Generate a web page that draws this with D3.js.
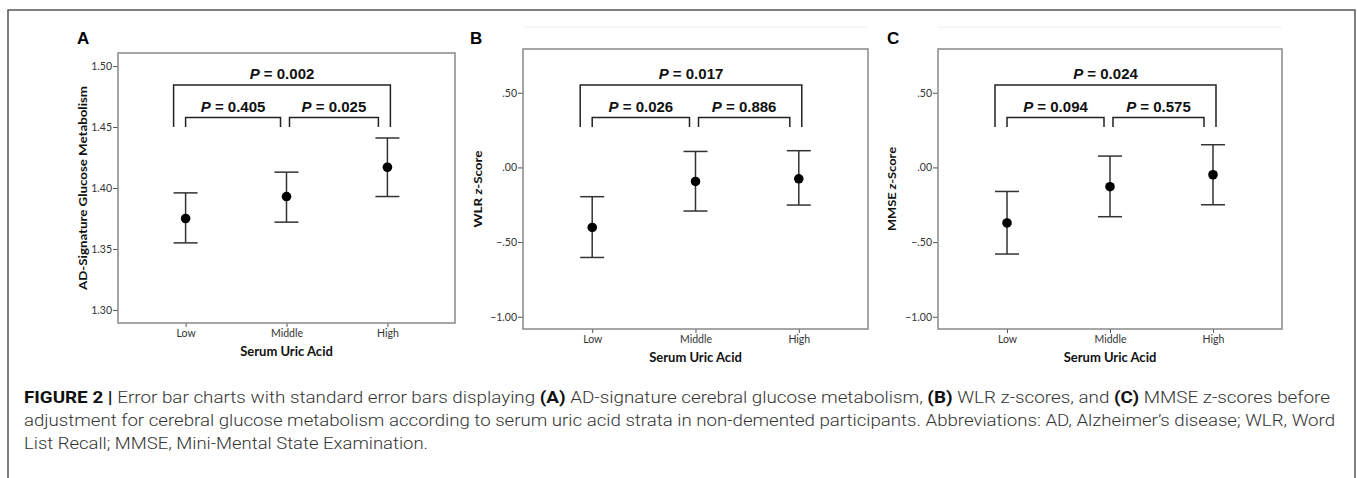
<!DOCTYPE html>
<html>
<head>
<meta charset="utf-8">
<script src="https://cdn.jsdelivr.net/npm/d3@7"></script>
<style>
  body { margin: 0; background: #fff; }
  .tick text { font-family: Lato, "DejaVu Sans", sans-serif; font-size: 10.5px; fill: #333; }
  .tick line { stroke: #555; }
</style>
</head>
<body>
<div id="figure"></div>
<script>
// Values
const categories = ['Low', 'Middle', 'High'];

const glucoseMean  = [1.375, 1.393, 1.417];
const glucoseLower = [1.355, 1.372, 1.393];
const glucoseUpper = [1.396, 1.413, 1.441];
const glucoseTicks = [1.30, 1.35, 1.40, 1.45, 1.50];
const glucoseP = ['0.002', '0.405', '0.025'];

const wlrMean  = [-0.402, -0.094, -0.076];
const wlrLower = [-0.603, -0.292, -0.252];
const wlrUpper = [-0.196, 0.107, 0.112];
const wlrP = ['0.017', '0.026', '0.886'];

const mmseMean  = [-0.372, -0.129, -0.049];
const mmseLower = [-0.580, -0.330, -0.250];
const mmseUpper = [-0.161, 0.076, 0.152];
const mmseP = ['0.024', '0.094', '0.575'];

const zTicks = [-1.00, -0.50, 0.00, 0.50];

const width = 1357;
const height = 478;

const svg = d3.select('#figure')
  .append('svg')
    .attr('width', width)
    .attr('height', height);

// outer frame of the figure
svg.append('path')
  .attr('d', `M8,${height} V10 H1355 V${height}`)
  .attr('fill', 'none')
  .attr('stroke', '#555')
  .attr('stroke-width', 1.5);

const zFormat = v => d3.format('.2f')(v).replace('0.', '.');

const panels = [
  { letter: 'A', letterX: 77, box: {l: 118, r: 455, t: 53, b: 323}, domain: [1.2893, 1.5107],
    ticks: glucoseTicks, fmt: d3.format('.2f'), mean: glucoseMean, lower: glucoseLower, upper: glucoseUpper,
    pvals: glucoseP, yLabel: ['AD-Signature Glucose Metabolism'], yLabelX: 83, yLabelLen: 204, faint: false },
  { letter: 'B', letterX: 470, box: {l: 523, r: 868, t: 49, b: 329}, domain: [-1.082, 0.793],
    ticks: zTicks, fmt: zFormat, mean: wlrMean, lower: wlrLower, upper: wlrUpper,
    pvals: wlrP, yLabel: ['WLR ', 'z', '-Score'], yLabelX: 478, yLabelLen: 77, faint: true },
  { letter: 'C', letterX: 887, box: {l: 938, r: 1282, t: 49, b: 329}, domain: [-1.082, 0.793],
    ticks: zTicks, fmt: zFormat, mean: mmseMean, lower: mmseLower, upper: mmseUpper,
    pvals: mmseP, yLabel: ['MMSE ', 'z', '-Score'], yLabelX: 892, yLabelLen: 84, faint: true }
];

panels.forEach(p => drawPanel(p));

function drawPanel(p) {
  const g = svg.append('g');
  const {l, r, t, b} = p.box;

  const x = d3.scalePoint().domain(categories).range([l, r]).padding(0.67);
  const y = d3.scaleLinear().domain(p.domain).range([b, t]);

  g.append('text')
    .attr('x', p.letterX)
    .attr('y', 44)
    .attr('font-family', 'Liberation Sans, Arial, sans-serif')
    .attr('font-weight', 700)
    .attr('font-size', 17)
    .text(p.letter);

  if (p.faint) {
    g.append('line')
      .attr('x1', l).attr('x2', r).attr('y1', 27).attr('y2', 27)
      .attr('stroke', '#f0f0f0');
  }

  // axes
  const yAxis = g.append('g')
    .attr('transform', `translate(${l},0)`)
    .call(d3.axisLeft(y).tickValues(p.ticks).tickFormat(p.fmt).tickSize(5).tickPadding(1));
  yAxis.select('.domain').remove();

  const xAxis = g.append('g')
    .attr('transform', `translate(0,${b})`)
    .call(d3.axisBottom(x).tickSize(4).tickPadding(3));
  xAxis.select('.domain').remove();

  g.append('rect')
    .attr('x', l).attr('y', t)
    .attr('width', r - l).attr('height', b - t)
    .attr('fill', 'none')
    .attr('stroke', '#888')
    .attr('stroke-width', 1.5);

  // axis titles
  g.append('text')
    .attr('x', (l + r) / 2)
    .attr('y', b + 33)
    .attr('text-anchor', 'middle')
    .attr('font-family', 'Lato, "DejaVu Sans", sans-serif')
    .attr('font-weight', 700)
    .attr('font-size', 13)
    .attr('fill', '#111')
    .text('Serum Uric Acid');

  const yl = g.append('text')
    .attr('transform', `translate(${p.yLabelX},${(t + b) / 2}) rotate(-90)`)
    .attr('text-anchor', 'middle')
    .attr('dy', '0.35em')
    .attr('textLength', p.yLabelLen)
    .attr('lengthAdjust', 'spacingAndGlyphs')
    .attr('font-family', 'Lato, "DejaVu Sans", sans-serif')
    .attr('font-weight', 700)
    .attr('font-size', 12)
    .attr('fill', '#111');
  p.yLabel.forEach(part => {
    yl.append('tspan')
      .attr('font-style', part === 'z' ? 'italic' : 'normal')
      .text(part);
  });

  // error bars
  const capW = 12;
  const bars = g.append('g')
    .attr('stroke', '#333')
    .attr('stroke-width', 1.5);
  categories.forEach((c, i) => {
    bars.append('line')
      .attr('x1', x(c)).attr('x2', x(c))
      .attr('y1', y(p.lower[i])).attr('y2', y(p.upper[i]));
    bars.append('line')
      .attr('x1', x(c) - capW).attr('x2', x(c) + capW)
      .attr('y1', y(p.upper[i])).attr('y2', y(p.upper[i]));
    bars.append('line')
      .attr('x1', x(c) - capW).attr('x2', x(c) + capW)
      .attr('y1', y(p.lower[i])).attr('y2', y(p.lower[i]));
  });
  g.append('g')
    .selectAll('circle')
    .data(categories)
    .join('circle')
      .attr('cx', d => x(d))
      .attr('cy', (d, i) => y(p.mean[i]))
      .attr('r', 4.8)
      .attr('fill', '#000');

  // significance brackets
  const brackets = [
    { x1: x('Low') - 12, x2: x('High') + 3, top: 85, label: p.pvals[0], ly: 79 },
    { x1: x('Low'), x2: x('Middle') - 6, top: 117.5, label: p.pvals[1], ly: 112 },
    { x1: x('Middle') + 3, x2: x('High') - 9, top: 117.5, label: p.pvals[2], ly: 112 }
  ];
  brackets.forEach(br => {
    g.append('path')
      .attr('d', `M${br.x1},127 V${br.top} H${br.x2} V127`)
      .attr('fill', 'none')
      .attr('stroke', '#222')
      .attr('stroke-width', 1.5);
    const tx = g.append('text')
      .attr('x', (br.x1 + br.x2) / 2)
      .attr('y', br.ly)
      .attr('text-anchor', 'middle')
      .attr('font-family', 'Liberation Sans, Arial, sans-serif')
      .attr('font-weight', 700)
      .attr('font-size', 15)
      .attr('fill', '#111');
    tx.append('tspan').attr('font-style', 'italic').text('P');
    tx.append('tspan').text(' = ' + br.label);
  });
}

// caption
const captionLines = [
  { y: 403, len: 1306, parts: [
    ['FIGURE 2 | ', true], ['Error bar charts with standard error bars displaying ', false], ['(A)', true],
    [' AD-signature cerebral glucose metabolism, ', false], ['(B)', true], [' WLR z-scores, and ', false],
    ['(C)', true], [' MMSE z-scores before', false]] },
  { y: 426, len: 1311, parts: [
    ['adjustment for cerebral glucose metabolism according to serum uric acid strata in non-demented participants. Abbreviations: AD, Alzheimer\u2019s disease; WLR, Word', false]] },
  { y: 449, len: 404, parts: [['List Recall; MMSE, Mini-Mental State Examination.', false]] }
];

captionLines.forEach(line => {
  const t = svg.append('text')
    .attr('x', 24)
    .attr('y', line.y)
    .attr('textLength', line.len)
    .attr('lengthAdjust', 'spacingAndGlyphs')
    .attr('font-family', 'Roboto, "Liberation Sans", sans-serif')
    .attr('font-size', 16)
    .attr('fill', '#333');
  line.parts.forEach(([s, bold]) => {
    t.append('tspan')
      .attr('font-weight', bold ? 700 : 300)
      .attr('fill', bold ? '#111' : '#333')
      .text(s);
  });
});
</script>
</body>
</html>
